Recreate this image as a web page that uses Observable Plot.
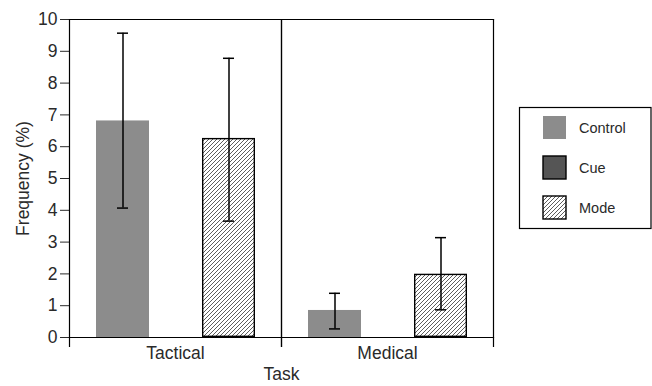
<!DOCTYPE html>
<html>
<head>
<meta charset="utf-8">
<script src="https://cdn.jsdelivr.net/npm/d3@7"></script>
<script src="https://cdn.jsdelivr.net/npm/@observablehq/plot@0.6"></script>
<style>
  html, body { margin: 0; padding: 0; background: white; }
  #chart { position: relative; width: 652px; height: 386px; }
</style>
</head>
<body>
<div id="chart"></div>
<script>
const tasks = ["Tactical", "Medical"];
const conditions = ["Control", "Cue", "Mode"];
const conditionColors = ["#8c8c8c", "#555555", "url(#hatch)"];
const controlMean = [6.81, 0.85];
const controlLow = [4.07, 0.27];
const controlHigh = [9.57, 1.39];
const modeMean = [6.26, 1.99];
const modeLow = [3.66, 0.87];
const modeHigh = [8.78, 3.14];
const yTicks = [0, 1, 2, 3, 4, 5, 6, 7, 8, 9, 10];

const rows = tasks.flatMap((t, i) => [
  {task: t, condition: "Control", mean: controlMean[i], lo: controlLow[i], hi: controlHigh[i]},
  {task: t, condition: "Mode", mean: modeMean[i], lo: modeLow[i], hi: modeHigh[i]}
]);

const lineW = 1.2;
const chart = Plot.plot({
  width: 652,
  height: 386,
  marginLeft: 69,
  marginTop: 19,
  marginRight: 159,
  marginBottom: 49,
  style: {fontFamily: "'Liberation Sans', Arial, sans-serif", fontSize: "17.5px", color: "#2a2a2a", background: "white"},
  fx: {domain: tasks, padding: 0, label: "Task", labelAnchor: "center", tickSize: 0, tickPadding: 9, labelOffset: 42, labelArrow: false},
  x: {domain: conditions, paddingInner: 0, paddingOuter: 0.5, axis: null},
  y: {domain: [0, 10], ticks: yTicks, tickSize: 9, tickPadding: 3, label: "Frequency (%)", labelAnchor: "center", labelOffset: 53, labelArrow: false},
  color: {domain: conditions, range: conditionColors},
  marks: [
    Plot.barY(rows.filter(d => d.condition === "Control"), {fx: "task", x: "condition", y: "mean", fill: "condition"}),
    Plot.barY(rows.filter(d => d.condition === "Mode"), {fx: "task", x: "condition", y: "mean", fill: "condition", stroke: "black", strokeWidth: 1.4, inset: 0.7}),
    Plot.frame({anchor: "top", stroke: "black", strokeWidth: lineW}),
    Plot.frame({anchor: "bottom", stroke: "black", strokeWidth: lineW}),
    Plot.frame({anchor: "left", stroke: "black", strokeWidth: lineW, insetBottom: -9}),
    Plot.frame({anchor: "right", stroke: "black", strokeWidth: lineW, insetBottom: -9}),
    Plot.ruleX(rows, {fx: "task", x: "condition", y1: "lo", y2: "hi", stroke: "black", strokeWidth: 1.5}),
    Plot.tickY(rows, {fx: "task", x: "condition", y: "hi", stroke: "black", strokeWidth: 1.5, insetLeft: 21, insetRight: 21}),
    Plot.tickY(rows, {fx: "task", x: "condition", y: "lo", stroke: "black", strokeWidth: 1.5, insetLeft: 21, insetRight: 21})
  ]
});

// hatch pattern definition
const svg = d3.select(chart);
const defs = svg.insert("defs", ":first-child");
const pat = defs.append("pattern")
  .attr("id", "hatch").attr("patternUnits", "userSpaceOnUse")
  .attr("width", 4).attr("height", 4);
pat.append("rect").attr("width", 4).attr("height", 4).attr("fill", "white");
pat.append("path").attr("d", "M-1,1 l2,-2 M0,4 l4,-4 M3,5 l2,-2")
  .attr("stroke", "#333").attr("stroke-width", 0.8);

// legend
const lg = svg.append("g")
  .attr("font-family", "'Liberation Sans', Arial, sans-serif")
  .attr("font-size", 14.5).attr("fill", "#2a2a2a").attr("text-anchor", "start");
lg.append("rect").attr("x", 519.5).attr("y", 107.5).attr("width", 131.5).attr("height", 121)
  .attr("fill", "white").attr("stroke", "black").attr("stroke-width", 1.2);
conditions.forEach((c, i) => {
  lg.append("rect").attr("x", 543).attr("y", 116 + i * 40).attr("width", 23).attr("height", 23)
    .attr("fill", conditionColors[i])
    .attr("stroke", c === "Control" ? "none" : "black").attr("stroke-width", 1.4);
  lg.append("text").attr("x", 579).attr("y", 127.5 + i * 40).attr("dy", "0.35em")
    .attr("text-anchor", "start").text(c);
});

document.getElementById("chart").appendChild(chart);
</script>
</body>
</html>
